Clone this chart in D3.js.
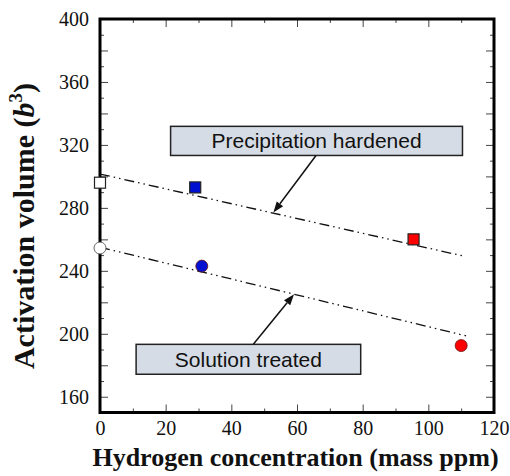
<!DOCTYPE html>
<html><head><meta charset="utf-8">
<script src="https://cdn.jsdelivr.net/npm/d3@7"></script>
<style>body{margin:0;background:#fff}svg{display:block}</style>
</head><body>
<svg id="c" width="510" height="476"></svg>
<script>
// ---- data ----
const seriesNames = ["Precipitation hardened", "Solution treated"];
const phX = [0, 29, 95.5];
const phY = [296, 293, 260];
const phColors = ["#ffffff", "#0010d0", "#ff0000"];
const stX = [0, 31, 110];
const stY = [254.5, 243, 192.5];
const stColors = ["#ffffff", "#0010d0", "#ff0000"];
// fitted trend lines (endpoints)
const phLineX = [0, 110.5];
const phLineY = [301.5, 249.5];
const stLineX = [0, 111.5];
const stLineY = [255, 198.7];
// tick values
const xTicksMajor = [0, 20, 40, 60, 80, 100, 120];
const xTicksMinor = [10, 30, 50, 70, 90, 110];
const yTicksMajor = [160, 180, 200, 220, 240, 260, 280, 300, 320, 340, 360, 380, 400];
const yTicksMinor = [150, 170, 190, 210, 230, 250, 270, 290, 310, 330, 350, 370, 390];
const yLabelled = [160, 200, 240, 280, 320, 360, 400];
// annotations (data units)
const annoText = ["Precipitation hardened", "Solution treated"];
const annoBoxX = [[21.5, 110.4], [11.0, 79.4]];
const annoBoxY = [[331.8, 313.3], [193.3, 174.3]];
const annoArrowFrom = [[65.8, 313.3], [46.7, 193.3]];
const annoArrowTo = [[52.8, 277.0], [59.1, 225.2]];

// ---- layout ----
const svg = d3.select("#c");
const L = 100, R = 494, T = 19, B = 412.5;
const x = d3.scaleLinear().domain([0, 120]).range([L, R]);
const y = d3.scaleLinear().domain([150, 400]).range([B, T]);
const serif = "'Liberation Serif','Times New Roman',serif";
const sans = "'Liberation Sans',Arial,sans-serif";

function styleAxis(g) {
  g.attr("font-family", serif).attr("font-size", 20);
  g.select(".domain").remove();
  g.selectAll(".tick line").attr("stroke", "#444").attr("stroke-width", 1);
  g.selectAll(".tick text").attr("font-family", serif).attr("font-size", 20).attr("fill", "#111");
}
// bottom
svg.append("g").attr("transform", `translate(0,${B})`)
  .call(d3.axisBottom(x).tickValues(xTicksMajor).tickSize(-8).tickPadding(8)).call(styleAxis);
svg.append("g").attr("transform", `translate(0,${B})`)
  .call(d3.axisBottom(x).tickValues(xTicksMinor).tickSize(-4).tickFormat("")).call(styleAxis);
// top
svg.append("g").attr("transform", `translate(0,${T})`)
  .call(d3.axisTop(x).tickValues(xTicksMajor).tickSize(-8).tickFormat("")).call(styleAxis);
svg.append("g").attr("transform", `translate(0,${T})`)
  .call(d3.axisTop(x).tickValues(xTicksMinor).tickSize(-4).tickFormat("")).call(styleAxis);
// left
svg.append("g").attr("transform", `translate(${L},0)`)
  .call(d3.axisLeft(y).tickValues(yTicksMajor).tickSize(-8).tickPadding(11)
    .tickFormat(d => yLabelled.includes(d) ? d : "")).call(styleAxis);
svg.append("g").attr("transform", `translate(${L},0)`)
  .call(d3.axisLeft(y).tickValues(yTicksMinor).tickSize(-4).tickFormat("")).call(styleAxis);
// right
svg.append("g").attr("transform", `translate(${R},0)`)
  .call(d3.axisRight(y).tickValues(yTicksMajor).tickSize(-8).tickFormat("")).call(styleAxis);
svg.append("g").attr("transform", `translate(${R},0)`)
  .call(d3.axisRight(y).tickValues(yTicksMinor).tickSize(-4).tickFormat("")).call(styleAxis);

// frame
svg.append("rect").attr("x", L).attr("y", T).attr("width", R - L).attr("height", B - T)
  .attr("fill", "none").attr("stroke", "#000").attr("stroke-width", 3);

// trend lines
const line = d3.line().x(d => x(d[0])).y(d => y(d[1]));
[[phLineX, phLineY], [stLineX, stLineY]].forEach(([lx, ly]) => {
  svg.append("path").datum(lx.map((v, i) => [v, ly[i]]))
    .attr("d", line).attr("fill", "none").attr("stroke", "#111")
    .attr("stroke-width", 1.3).attr("stroke-dasharray", "10,4,1.5,4,1.5,4");
});

// annotations
annoText.forEach((t, i) => {
  const x0 = x(annoBoxX[i][0]), x1 = x(annoBoxX[i][1]);
  const y0 = y(annoBoxY[i][0]), y1 = y(annoBoxY[i][1]);
  svg.append("rect").attr("x", x0).attr("y", y0).attr("width", x1 - x0).attr("height", y1 - y0)
    .attr("fill", "#d6dce5").attr("stroke", "#222").attr("stroke-width", 1.5);
  svg.append("text").attr("x", (x0 + x1) / 2).attr("y", (y0 + y1) / 2 + 7.5)
    .attr("text-anchor", "middle").attr("font-family", sans).attr("font-size", 21)
    .attr("fill", "#111").text(t);
  const ax0 = x(annoArrowFrom[i][0]), ay0 = y(annoArrowFrom[i][1]);
  const ax1 = x(annoArrowTo[i][0]), ay1 = y(annoArrowTo[i][1]);
  const ang = Math.atan2(ay1 - ay0, ax1 - ax0);
  const hl = 11, hw = 4;
  const bx = ax1 - hl * Math.cos(ang), by = ay1 - hl * Math.sin(ang);
  svg.append("line").attr("x1", ax0).attr("y1", ay0).attr("x2", bx).attr("y2", by)
    .attr("stroke", "#111").attr("stroke-width", 1.5);
  const px = -Math.sin(ang), py = Math.cos(ang);
  svg.append("path").attr("d", `M${ax1},${ay1}L${bx + px * hw},${by + py * hw}L${bx - px * hw},${by - py * hw}Z`)
    .attr("fill", "#111");
});

// markers
const sq = 11;
svg.append("g").selectAll("rect").data(phX.map((v, i) => ({x: v, y: phY[i], c: phColors[i]})))
  .join("rect")
  .attr("x", d => x(d.x) - sq / 2).attr("y", d => y(d.y) - sq / 2)
  .attr("width", sq).attr("height", sq)
  .attr("fill", d => d.c).attr("stroke", "#222").attr("stroke-width", 1.2);
svg.append("g").selectAll("circle").data(stX.map((v, i) => ({x: v, y: stY[i], c: stColors[i]})))
  .join("circle")
  .attr("cx", d => x(d.x)).attr("cy", d => y(d.y)).attr("r", 6)
  .attr("fill", d => d.c).attr("stroke", d => d.c === "#ffffff" ? "#444" : "#661111").attr("stroke-width", 0.8);

// axis titles
svg.append("text").attr("x", 295.5).attr("y", 466).attr("text-anchor", "middle")
  .attr("font-family", serif).attr("font-weight", "bold").attr("font-size", 26)
  .attr("fill", "#111").text("Hydrogen concentration (mass ppm)");
const yt = svg.append("text").attr("transform", "translate(34,226) rotate(-90)")
  .attr("text-anchor", "middle").attr("font-family", serif).attr("font-weight", "bold")
  .attr("font-size", 30).attr("fill", "#111");
yt.append("tspan").text("Activation volume (");
yt.append("tspan").attr("font-style", "italic").text("b");
yt.append("tspan").attr("font-size", 19).attr("dy", -12).text("3");
yt.append("tspan").attr("dy", 12).text(")");
</script>
</body></html>
